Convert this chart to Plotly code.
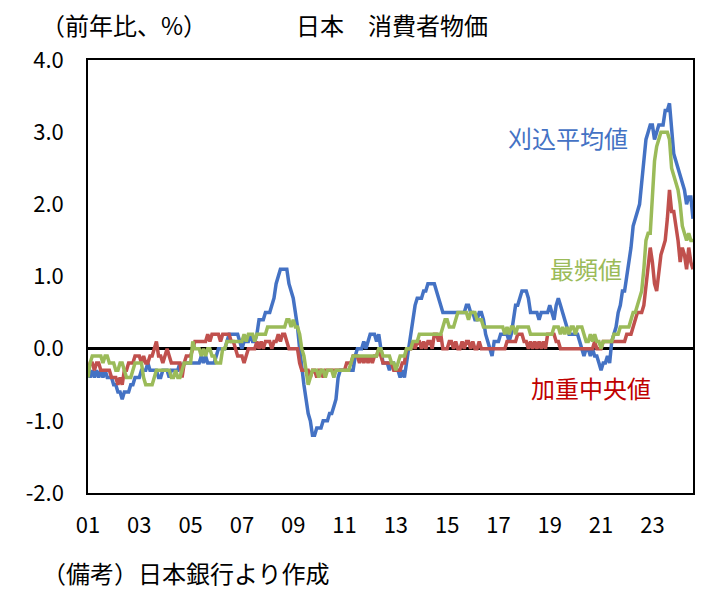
import plotly.graph_objects as go

# Monthly, Jan 2001 - Aug 2024 (y/y %, BOJ core measures)
trimmed_mean = (
    [-0.3,-0.4,-0.3,-0.4,-0.3,-0.4,-0.3,-0.4,-0.3,-0.4,-0.4,-0.4] +  # 2001
    [-0.5,-0.5,-0.6,-0.6,-0.7,-0.6,-0.6,-0.6,-0.5,-0.5,-0.4,-0.4] +  # 2002
    [-0.4,-0.3,-0.3,-0.3,-0.2,-0.3,-0.3,-0.3,-0.3,-0.4,-0.4,-0.3] +  # 2003
    [-0.3,-0.3,-0.4,-0.3,-0.3,-0.3,-0.3,-0.2,-0.3,-0.2,-0.2,-0.2] +  # 2004
    [-0.2,-0.2,-0.2,-0.2,-0.2,-0.1,-0.2,-0.1,-0.2,-0.2,-0.2,-0.2] +  # 2005
    [-0.1,0.0,0.0,0.0,0.0,0.1,0.2,0.2,0.2,0.2,0.2,0.1] +             # 2006
    [0.0,0.1,0.1,0.1,0.2,0.1,0.1,0.2,0.4,0.4,0.4,0.5] +              # 2007
    [0.5,0.5,0.6,0.7,0.9,1.0,1.1,1.1,1.1,1.1,0.9,0.8] +              # 2008
    [0.7,0.5,0.3,0.0,-0.3,-0.5,-0.7,-0.9,-1.0,-1.2,-1.2,-1.1] +      # 2009
    [-1.1,-1.1,-1.0,-1.0,-1.0,-0.9,-0.9,-0.8,-0.7,-0.4,-0.3,-0.3] +  # 2010
    [-0.3,-0.3,-0.3,-0.3,-0.3,-0.1,0.0,0.0,0.0,0.1,0.0,0.1] +        # 2011
    [0.2,0.2,0.2,0.1,0.2,0.0,-0.2,-0.2,-0.2,-0.3,-0.2,-0.2] +        # 2012
    [-0.3,-0.3,-0.4,-0.3,-0.4,-0.2,0.0,0.2,0.4,0.6,0.7,0.7] +        # 2013
    [0.7,0.8,0.8,0.9,0.9,0.9,0.9,0.8,0.7,0.6,0.5,0.5] +              # 2014
    [0.5,0.5,0.5,0.5,0.5,0.5,0.5,0.5,0.5,0.6,0.6,0.5] +              # 2015
    [0.5,0.4,0.4,0.5,0.5,0.4,0.2,0.1,0.0,-0.1,0.1,0.1] +             # 2016
    [0.1,0.2,0.2,0.2,0.2,0.1,0.2,0.4,0.6,0.6,0.7,0.8] +              # 2017
    [0.8,0.8,0.7,0.5,0.5,0.5,0.5,0.4,0.5,0.5,0.5,0.5] +              # 2018
    [0.6,0.5,0.4,0.6,0.7,0.6,0.5,0.4,0.3,0.2,0.2,0.2] +              # 2019
    [0.2,0.2,0.1,0.0,-0.1,0.0,0.0,-0.1,0.0,-0.1,-0.1,-0.2] +         # 2020
    [-0.3,-0.2,-0.2,-0.1,-0.2,0.1,0.2,0.3,0.5,0.6,0.8,0.8] +         # 2021
    [1.0,1.2,1.4,1.7,1.8,1.9,2.0,2.3,2.6,2.9,3.0,3.1] +              # 2022
    [3.1,2.9,3.0,3.1,3.1,3.1,3.3,3.3,3.4,3.0,2.7,2.6] +              # 2023
    [2.5,2.4,2.3,2.2,2.0,2.1,2.1,1.8]                                # 2024
)

weighted_median = (
    [-0.3,-0.2,-0.2,-0.3,-0.2,-0.2,-0.3,-0.3,-0.3,-0.3,-0.3,-0.4] +  # 2001
    [-0.4,-0.4,-0.5,-0.4,-0.5,-0.3,-0.3,-0.2,-0.2,-0.2,-0.1,-0.1] +  # 2002
    [-0.1,-0.2,-0.1,-0.2,-0.2,-0.1,-0.1,0.0,0.1,-0.1,-0.1,-0.2] +    # 2003
    [-0.1,0.0,-0.1,-0.2,-0.2,-0.2,-0.2,-0.2,-0.4,-0.2,-0.1,-0.1] +   # 2004
    [-0.1,0.0,0.1,0.1,0.1,0.1,0.1,0.1,0.2,0.1,0.2,0.2] +             # 2005
    [0.2,0.2,0.1,0.2,0.2,0.2,0.2,0.1,0.1,0.0,-0.1,-0.1] +            # 2006
    [-0.1,-0.2,-0.1,0.0,0.0,0.0,0.0,0.1,0.0,0.1,0.0,0.1] +           # 2007
    [0.1,0.1,0.0,0.1,0.1,0.2,0.1,0.2,0.2,0.1,0.0,0.0] +              # 2008
    [0.0,0.0,0.0,-0.2,-0.3,-0.3,-0.3,-0.3,-0.4,-0.3,-0.3,-0.4] +     # 2009
    [-0.3,-0.3,-0.4,-0.3,-0.3,-0.3,-0.3,-0.3,-0.3,-0.3,-0.3,-0.3] +  # 2010
    [-0.3,-0.2,-0.2,-0.2,-0.1,-0.1,-0.1,-0.2,-0.1,-0.2,-0.1,-0.2] +  # 2011
    [-0.1,-0.2,-0.1,-0.1,0.0,-0.1,-0.2,-0.2,-0.2,-0.2,-0.2,-0.3] +   # 2012
    [-0.3,-0.3,-0.3,-0.2,-0.2,0.0,0.0,0.0,0.1,0.0,0.1,0.1] +         # 2013
    [0.0,0.1,0.0,0.1,0.1,0.0,0.2,0.2,0.1,0.2,0.0,0.0] +              # 2014
    [0.0,0.1,0.1,0.0,0.1,0.0,0.0,0.1,0.0,0.1,0.1,0.0] +              # 2015
    [0.1,0.0,0.0,0.1,0.0,0.0,0.0,0.0,0.0,0.0,0.0,0.0] +              # 2016
    [0.0,0.0,0.0,0.0,0.1,0.1,0.1,0.1,0.1,0.2,0.2,0.2] +              # 2017
    [0.1,0.1,0.0,0.1,0.0,0.1,0.0,0.1,0.0,0.1,0.0,0.2] +              # 2018
    [0.2,0.2,0.2,0.1,0.1,0.0,0.0,0.0,0.0,0.0,0.0,0.0] +              # 2019
    [0.0,0.0,0.0,0.0,0.0,0.0,0.0,0.0,0.0,0.1,0.0,0.0] +              # 2020
    [0.0,0.1,0.1,0.1,0.1,0.1,0.1,0.1,0.1,0.1,0.1,0.1] +              # 2021
    [0.2,0.2,0.2,0.3,0.4,0.5,0.5,0.5,0.6,0.9,1.2,1.4] +              # 2022
    [1.2,0.9,0.8,1.1,1.3,1.4,1.5,1.8,2.2,1.9,1.9,1.7] +              # 2023
    [1.5,1.2,1.4,1.3,1.1,1.4,1.2,1.1]                                # 2024
)

mode = (
    [-0.4,-0.2,-0.1,-0.1,-0.1,-0.1,-0.1,-0.2,-0.1,-0.1,-0.2,-0.2] +  # 2001
    [-0.2,-0.3,-0.3,-0.2,-0.2,-0.3,-0.4,-0.4,-0.4,-0.3,-0.2,-0.2] +  # 2002
    [-0.2,-0.2,-0.4,-0.5,-0.5,-0.5,-0.5,-0.4,-0.3,-0.3,-0.3,-0.3] +  # 2003
    [-0.3,-0.3,-0.3,-0.4,-0.4,-0.3,-0.4,-0.4,-0.3,-0.2,-0.2,-0.2] +  # 2004
    [-0.2,0.1,0.0,0.0,0.0,-0.1,0.0,-0.1,0.0,0.0,-0.1,-0.1] +         # 2005
    [-0.2,-0.2,-0.2,0.0,0.0,0.1,0.1,0.1,0.1,0.1,0.1,0.1] +           # 2006
    [0.1,0.2,0.1,0.2,0.2,0.2,0.1,0.2,0.2,0.2,0.2,0.2] +              # 2007
    [0.3,0.3,0.3,0.3,0.3,0.3,0.3,0.3,0.3,0.4,0.4,0.3] +              # 2008
    [0.4,0.3,0.3,0.2,0.0,-0.1,-0.3,-0.5,-0.4,-0.3,-0.3,-0.3] +       # 2009
    [-0.4,-0.3,-0.3,-0.4,-0.3,-0.3,-0.3,-0.4,-0.3,-0.3,-0.3,-0.3] +  # 2010
    [-0.3,-0.3,-0.3,-0.2,-0.1,-0.1,-0.1,-0.1,-0.1,-0.1,-0.1,-0.1] +  # 2011
    [-0.1,-0.1,-0.1,-0.1,0.0,0.0,-0.1,-0.1,-0.1,-0.1,-0.2,-0.2] +    # 2012
    [-0.3,-0.2,-0.1,-0.1,-0.1,0.0,0.0,0.0,0.1,0.1,0.1,0.2] +         # 2013
    [0.2,0.2,0.2,0.2,0.2,0.2,0.2,0.2,0.2,0.2,0.3,0.4] +              # 2014
    [0.4,0.3,0.3,0.3,0.4,0.5,0.5,0.5,0.5,0.5,0.4,0.5] +              # 2015
    [0.5,0.5,0.4,0.4,0.4,0.3,0.3,0.3,0.3,0.3,0.3,0.3] +              # 2016
    [0.3,0.3,0.3,0.2,0.3,0.2,0.3,0.3,0.2,0.3,0.3,0.3] +              # 2017
    [0.3,0.3,0.3,0.2,0.2,0.2,0.2,0.2,0.2,0.2,0.2,0.2] +              # 2018
    [0.2,0.2,0.3,0.3,0.3,0.2,0.3,0.2,0.3,0.2,0.3,0.3] +              # 2019
    [0.2,0.3,0.3,0.3,0.2,0.1,0.1,0.2,0.1,0.2,0.1,0.1] +              # 2020
    [0.0,0.1,0.1,0.1,0.1,0.1,0.2,0.2,0.2,0.3,0.3,0.3] +              # 2021
    [0.3,0.3,0.4,0.5,0.5,0.6,0.7,0.8,1.1,1.5,1.6,1.6] +              # 2022
    [2.1,2.6,2.8,2.9,3.0,3.0,3.0,3.0,2.9,2.5,2.4,2.3] +              # 2023
    [2.2,2.0,1.7,1.6,1.5,1.6,1.5,1.5]                                # 2024
)

months = list(range(len(trimmed_mean)))  # 0 = Jan 2001
tick_months = [0, 24, 48, 72, 96, 120, 144, 168, 192, 216, 240, 264]
tick_labels = ["01", "03", "05", "07", "09", "11", "13", "15", "17", "19", "21", "23"]
y_ticks = [-2, -1, 0, 1, 2, 3, 4]
y_tick_labels = ["-2.0", "-1.0", "0.0", "1.0", "2.0", "3.0", "4.0"]

BLUE = "#4472C4"
RED = "#C0504D"
GREEN = "#9BBB59"
FONT = "Noto Sans CJK JP"

fig = go.Figure()
fig.add_trace(go.Scatter(x=months, y=trimmed_mean, mode="lines",
                         line=dict(color=BLUE, width=3.5), name="刈込平均値"))
fig.add_trace(go.Scatter(x=months, y=weighted_median, mode="lines",
                         line=dict(color=RED, width=3.5), name="加重中央値"))
fig.add_trace(go.Scatter(x=months, y=mode, mode="lines",
                         line=dict(color=GREEN, width=3.5), name="最頻値"))

# page body has an 8px margin, so the figure is offset by 8px
OFF = 8
W, H = 713 - OFF, 589 - OFF
L, R, T, B = 88 - OFF, 20, 60 - OFF, 96
pw, ph = W - L - R, H - T - B


def px(x, y):
    # reference-window pixels -> paper coords
    return (x - OFF - L) / pw, (H - B - (y - OFF)) / ph


annots = []
for text, X, Y, col in [("刈込平均値", 568, 137, BLUE),
                        ("最頻値", 586, 268, GREEN),
                        ("加重中央値", 591, 387, "#C00000"),
                        ("（前年比、%）", 124, 24, "black"),
                        ("日本　消費者物価", 392, 24, "black"),
                        ("（備考）日本銀行より作成", 186, 572, "black")]:
    xp, yp = px(X, Y)
    annots.append(dict(text=text, x=xp, y=yp, xref="paper", yref="paper",
                       xanchor="center", yanchor="middle", showarrow=False,
                       font=dict(family=FONT, size=24, color=col)))

fig.update_layout(
    width=W, height=H,
    margin=dict(l=L, r=R, t=T, b=B),
    paper_bgcolor="white", plot_bgcolor="white",
    showlegend=False,
    font=dict(family=FONT, size=22, color="black"),
    annotations=annots,
)
fig.update_xaxes(range=[0, len(months) - 1], tickvals=tick_months, ticktext=tick_labels,
                 showgrid=False, zeroline=False, showline=True, mirror=True,
                 linecolor="black", linewidth=1.5, ticks="", ticklabelstandoff=12,
                 tickfont=dict(family=FONT, size=22, color="black"))
fig.update_yaxes(range=[-2, 4], tickvals=y_ticks, ticktext=y_tick_labels,
                 showgrid=False, zeroline=True, zerolinecolor="black", zerolinewidth=2.5,
                 showline=True, mirror=True, linecolor="black", linewidth=1.5,
                 ticks="", ticklabelstandoff=18,
                 tickfont=dict(family=FONT, size=22, color="black"))

fig.write_html("out.html")
